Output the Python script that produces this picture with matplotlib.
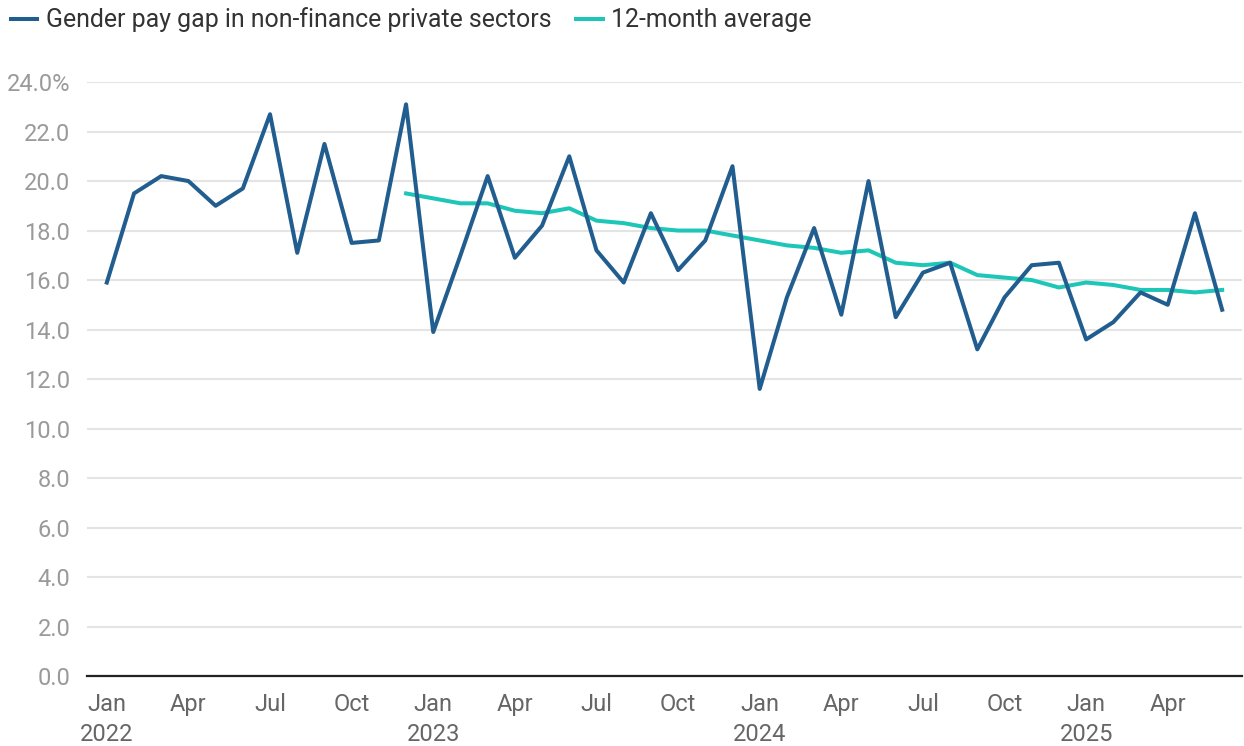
import matplotlib
matplotlib.use("Agg")
import matplotlib.pyplot as plt
import numpy as np

plt.rcParams['font.family'] = ['Roboto', 'DejaVu Sans']

months = ["Jan", "Feb", "Mar", "Apr", "May", "Jun", "Jul", "Aug", "Sep", "Oct", "Nov", "Dec"]
years = [2022, 2023, 2024, 2025]
n_months = 42  # Jan 2022 .. Jun 2025

pay_gap = [15.9, 19.5, 20.2, 20.0, 19.0, 19.7, 22.7, 17.1, 21.5, 17.5, 17.6, 23.1,
           13.9, 17.0, 20.2, 16.9, 18.2, 21.0, 17.2, 15.9, 18.7, 16.4, 17.6, 20.6,
           11.6, 15.3, 18.1, 14.6, 20.0, 14.5, 16.3, 16.7, 13.2, 15.3, 16.6, 16.7,
           13.6, 14.3, 15.5, 15.0, 18.7, 14.8]

avg_start = 11  # Dec 2022
avg_12m = [19.5,
           19.3, 19.1, 19.1, 18.8, 18.7, 18.9, 18.4, 18.3, 18.1, 18.0, 18.0, 17.8,
           17.6, 17.4, 17.3, 17.1, 17.2, 16.7, 16.6, 16.7, 16.2, 16.1, 16.0, 15.7,
           15.9, 15.8, 15.6, 15.6, 15.5, 15.6]

yticks = [0, 2, 4, 6, 8, 10, 12, 14, 16, 18, 20, 22, 24]

series_label = "Gender pay gap in non-finance private sectors"
avg_label = "12-month average"

blue = "#215e8f"
teal = "#1ec6b8"

fig = plt.figure(figsize=(12.44, 7.46), dpi=100)
ax = fig.add_axes([0.0699, 0.0938, 0.9285, 0.7962])

x = np.arange(n_months)
ax.plot(x, pay_gap, color=blue, lw=2.9, label=series_label, zorder=3)
xa = np.arange(avg_start, avg_start + len(avg_12m))
ax.plot(xa, avg_12m, color=teal, lw=2.9, label=avg_label, zorder=2)

ax.set_xlim(-0.73, 41.73)
ax.set_ylim(0, 24)
ax.set_yticks(yticks)
ylabels = [f"{v:.1f}" for v in yticks]
ylabels[-1] = ylabels[-1] + "%"
ax.set_yticklabels(ylabels)

xt = list(range(0, n_months, 3))
xl = []
for i in xt:
    m = months[i % 12]
    if i % 12 == 0:
        xl.append(f"{m}\n{years[i // 12]}")
    else:
        xl.append(m)
ax.set_xticks(xt)
ax.set_xticklabels(xl, fontsize=17, color="#666666", linespacing=1.4, va='top')

ax.tick_params(axis='y', length=0, labelsize=17, labelcolor="#9a9a9a", pad=12)
ax.tick_params(axis='x', length=0, pad=12)

for s in ["top", "right", "left"]:
    ax.spines[s].set_visible(False)
ax.spines["bottom"].set_color("#222222")
ax.spines["bottom"].set_linewidth(1.6)
ax.grid(axis='y', color="#e4e4e4", lw=1.5)
ax.set_axisbelow(True)
for line in ax.lines:
    line.set_clip_on(False)

fig.legend(loc='upper left', bbox_to_anchor=(-0.009, 1.02), ncol=2, frameon=False,
           fontsize=17.9, handlelength=1.05, handletextpad=0.35, columnspacing=1.0,
           labelcolor="#333333")

fig.savefig("out.png", dpi=100)
